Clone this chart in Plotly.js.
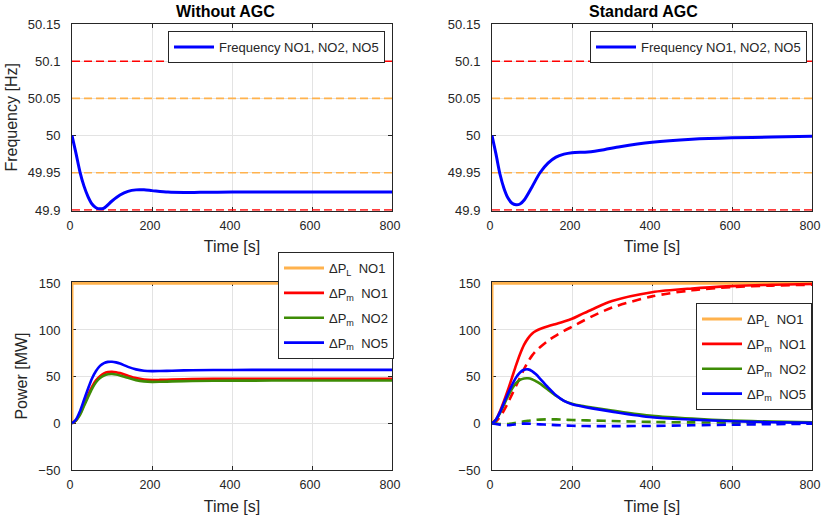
<!DOCTYPE html>
<html>
<head>
<meta charset="utf-8">
<script src="https://cdn.plot.ly/plotly-3.0.1.min.js"></script>
<style>html,body{margin:0;padding:0;background:#fff;}#chart{width:821px;height:521px;}</style>
</head>
<body>
<div id="chart"></div>
<script>
// ---------- DATA ----------
const panelTitles = ["Without AGC", "Standard AGC"];
const xTickVals = [0, 200, 400, 600, 800];
const freqTickVals = [49.9, 49.95, 50, 50.05, 50.1, 50.15];
const freqTickText = ["49.9", "49.95", "50", "50.05", "50.1", "50.15"];
const powerTickVals = [-50, 0, 50, 100, 150];

const limitRed = [49.9, 50.1];
const limitOrange = [49.95, 50.05];
const limitT = [0, 800];

const tFreq = [0,10,20,30,40,50,60,70,80,100,120,140,160,180,200,240,280,320,400,500,600,700,800];
const freqNoAGC = [50,49.976,49.951,49.932,49.918,49.908,49.903,49.9015,49.9025,49.912,49.92,49.925,49.927,49.927,49.926,49.924,49.9235,49.9237,49.924,49.924,49.924,49.924,49.924];
const freqAGC = [50,49.975,49.948,49.929,49.916,49.909,49.907,49.908,49.913,49.931,49.95,49.963,49.971,49.975,49.977,49.978,49.981,49.985,49.991,49.995,49.997,49.998,49.999];

const tLoad = [0, 0, 800];
const loadNO1 = [0, 150, 150];

const tP = [0,10,20,30,40,50,60,70,80,90,100,110,120,140,160,180,200,220,250,300,400,500,600,700,800];
// Without AGC
const pmNO1_noAGC = [0,3,10,20,30,39,46,50.5,53.5,55,55.3,54.8,53.8,51,48.5,47,46.4,46.5,46.9,47.4,47.7,47.8,47.8,47.8,47.8];
const pmNO2_noAGC = [0,3,9,18.5,28,37,44,48.5,51.2,52.5,52.8,52.3,51.3,48.7,46.3,44.9,44.4,44.5,44.9,45.4,45.7,45.8,45.8,45.8,45.8];
const pmNO5_noAGC = [0,4,13,25,37,48,56,61.5,64.5,65.8,66,65.3,64,60.5,57.8,56.3,55.9,56,56.4,56.9,57.2,57.3,57.3,57.3,57.3];
// Standard AGC (solid)
const pmNO1_AGC = [0,4,13,24,36,49,62,74,84,91,96,99,101,104,106.5,109,112,116,122,131,140.5,144.5,147,148.5,149.3];
const pmNO2_AGC = [0,3.5,11,20,29,37,43,46.5,48,48.2,47.2,45,42.5,36,29.5,24,21,19,17,13.8,8,5,3,1.8,1];
const pmNO5_AGC = [0,4,12,22,32,41,49,54.5,57.3,57.8,56,52.5,48,38.5,30,24,20.5,18.5,16,12.5,6.5,4,2.2,1.2,0.5];
// Standard AGC (dashed)
const pmNO1_AGCd = [0,2,7,14,22,31,40,49,58,66,72.5,77.5,81.5,88.5,94,99,103.5,108,114.5,124,136,142.5,146,147.5,148.5];
const pmNO2_AGCd = [0,-0.3,-0.8,-1,-0.8,-0.2,0.6,1.4,2.1,2.7,3.2,3.7,4,4.3,4.2,3.9,3.6,3.3,3,2.5,1.5,1,0.7,0.4,0.2];
const pmNO5_AGCd = [0,-0.8,-1.6,-2,-2,-1.6,-1.1,-0.6,-0.3,-0.3,-0.5,-0.8,-1.1,-1.5,-1.9,-2.3,-2.6,-2.8,-3,-3,-2.8,-2.1,-1.5,-0.9,-0.4];

const seriesNames = ["Frequency NO1, NO2, NO5", "ΔP<sub>L</sub>  NO1", "ΔP<sub>m</sub>  NO1", "ΔP<sub>m</sub>  NO2", "ΔP<sub>m</sub>  NO5"];

// ---------- STYLE ----------
const C = {blue:"#0000ff", red:"#ff0000", orange:"#ffb24d", green:"#3d8c05", ink:"#262626", grid:"#e3e3e3"};
const FONT = "Liberation Sans, Arial, Helvetica, sans-serif";

function limitLines(xa, ya) {
  const out = [];
  limitRed.forEach(v => out.push({x: limitT, y: [v, v], xaxis: xa, yaxis: ya, mode: "lines", showlegend: false, hoverinfo: "skip",
    line: {color: C.red, width: 1.6, dash: "8px,4px"}}));
  limitOrange.forEach(v => out.push({x: limitT, y: [v, v], xaxis: xa, yaxis: ya, mode: "lines", showlegend: false, hoverinfo: "skip",
    line: {color: C.orange, width: 1.6, dash: "8px,4px"}}));
  return out;
}
let grp = 0;
function curve(x, y, xa, ya, color, name, legend, opts) {
  opts = opts || {};
  grp += 1;
  return {x: x, y: y, xaxis: xa, yaxis: ya, mode: "lines", name: name, legend: legend, legendgroup: "g" + grp,
    showlegend: opts.show !== false,
    line: {color: color, width: opts.width || 2.6, dash: opts.dash || "solid", shape: opts.shape || "spline", smoothing: 0.8}};
}

const traces = [];
traces.push(...limitLines("x", "y"));
traces.push(curve(tFreq, freqNoAGC, "x", "y", C.blue, seriesNames[0], "legend", {width: 3}));
traces.push(...limitLines("x2", "y2"));
traces.push(curve(tFreq, freqAGC, "x2", "y2", C.blue, seriesNames[0], "legend2", {width: 3}));

traces.push(curve(tLoad, loadNO1, "x3", "y3", C.orange, seriesNames[1], "legend3", {shape: "linear", width: 3}));
traces.push(curve(tP, pmNO1_noAGC, "x3", "y3", C.red, seriesNames[2], "legend3"));
traces.push(curve(tP, pmNO2_noAGC, "x3", "y3", C.green, seriesNames[3], "legend3"));
traces.push(curve(tP, pmNO5_noAGC, "x3", "y3", C.blue, seriesNames[4], "legend3"));

traces.push(curve(tLoad, loadNO1, "x4", "y4", C.orange, seriesNames[1], "legend4", {shape: "linear", width: 3}));
traces.push(curve(tP, pmNO1_AGCd, "x4", "y4", C.red, seriesNames[2], "legend4", {dash: "9px,6px", show: false}));
traces.push(curve(tP, pmNO2_AGCd, "x4", "y4", C.green, seriesNames[3], "legend4", {dash: "9px,6px", show: false}));
traces.push(curve(tP, pmNO5_AGCd, "x4", "y4", C.blue, seriesNames[4], "legend4", {dash: "9px,6px", show: false}));
traces.push(curve(tP, pmNO1_AGC, "x4", "y4", C.red, seriesNames[2], "legend4"));
traces.push(curve(tP, pmNO2_AGC, "x4", "y4", C.green, seriesNames[3], "legend4"));
traces.push(curve(tP, pmNO5_AGC, "x4", "y4", C.blue, seriesNames[4], "legend4"));

const W = 821, H = 521;
const dxL = [72 / W, 392 / W], dxR = [492 / W, 812 / W];
const dyT = [1 - 210.7 / H, 1 - 24 / H], dyB = [1 - 470 / H, 1 - 282 / H];

function xAxis(domain, anchor) {
  return {domain: domain, anchor: anchor, range: [0, 800], tickvals: xTickVals, showline: true, mirror: "ticks",
    linecolor: C.ink, linewidth: 1, ticks: "inside", ticklen: 4, tickcolor: C.ink, showgrid: true, gridcolor: C.grid,
    zeroline: false, tickfont: {size: 12.5, color: C.ink}, ticklabelstandoff: 3, ticklabelshift: -2, ticklabeloverflow: "allow",
    layer: "below traces",
    title: {text: "Time [s]", font: {size: 16, color: C.ink}, standoff: 9}};
}
function yAxis(domain, anchor, kind, titleText) {
  const a = {domain: domain, anchor: anchor, showline: true, mirror: "ticks", linecolor: C.ink, linewidth: 1,
    ticks: "inside", ticklen: 4, tickcolor: C.ink, showgrid: true, gridcolor: C.grid, zeroline: false,
    tickfont: {size: 13, color: C.ink}, ticklabelstandoff: 8, layer: "below traces"};
  if (kind === "f") { a.range = [49.899, 50.15]; a.tickvals = freqTickVals; a.ticktext = freqTickText; }
  else { a.range = [-50, 151.4]; a.tickvals = powerTickVals; }
  if (titleText) a.title = {text: titleText, font: {size: 16, color: C.ink}, standoff: 6};
  return a;
}
function legendBox(xRight, yTop) {
  return {x: xRight, y: yTop, xanchor: "right", yanchor: "top", bgcolor: "#ffffff", bordercolor: C.ink, borderwidth: 1,
    font: {size: 13, color: C.ink}, itemwidth: 40, traceorder: "grouped", tracegroupgap: 5};
}

const layout = {
  width: W, height: H, margin: {l: 0, r: 0, t: 0, b: 0}, paper_bgcolor: "#ffffff", plot_bgcolor: "#ffffff",
  font: {family: FONT, color: C.ink},
  xaxis: xAxis(dxL, "y"), yaxis: yAxis(dyT, "x", "f", "Frequency [Hz]"),
  xaxis2: xAxis(dxR, "y2"), yaxis2: yAxis(dyT, "x2", "f", null),
  xaxis3: xAxis(dxL, "y3"), yaxis3: yAxis(dyB, "x3", "p", "Power [MW]"),
  xaxis4: xAxis(dxR, "y4"), yaxis4: yAxis(dyB, "x4", "p", null),
  legend: legendBox(385 / W, 1 - 31 / H),
  legend2: legendBox(807 / W, 1 - 31 / H),
  legend3: legendBox(394 / W, 1 - 252 / H),
  legend4: legendBox(812 / W, 1 - 303 / H),
  annotations: [
    {text: "<b>" + panelTitles[0] + "</b>", xref: "paper", yref: "paper", x: 225 / W, y: 1 - 11 / H, xanchor: "center", yanchor: "middle", showarrow: false, font: {size: 16, color: "#000"}},
    {text: "<b>" + panelTitles[1] + "</b>", xref: "paper", yref: "paper", x: 643 / W, y: 1 - 11 / H, xanchor: "center", yanchor: "middle", showarrow: false, font: {size: 16, color: "#000"}}
  ]
};

Plotly.newPlot("chart", traces, layout, {displayModeBar: false, staticPlot: true});
</script>
</body>
</html>
